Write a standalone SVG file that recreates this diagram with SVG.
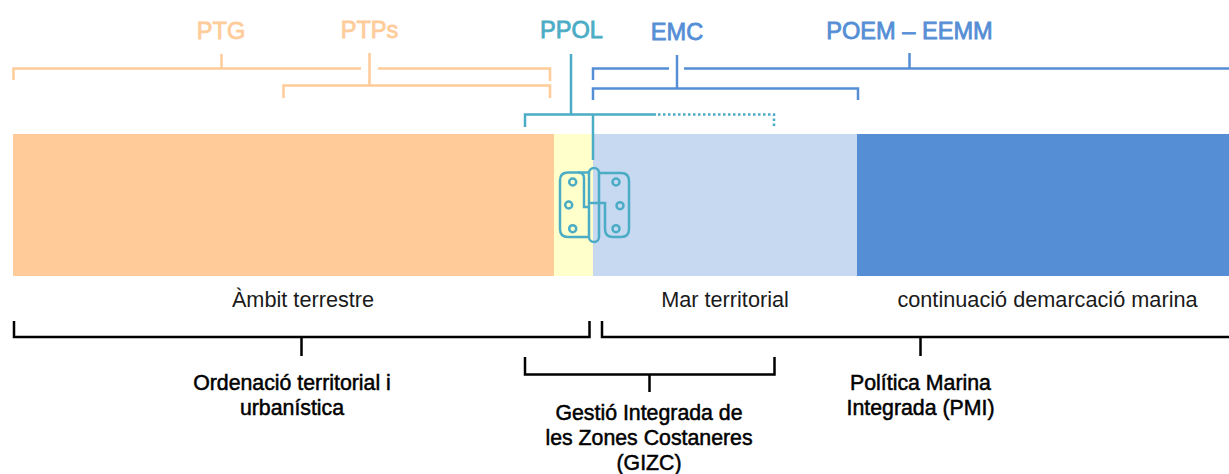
<svg xmlns="http://www.w3.org/2000/svg" width="1229" height="474" viewBox="0 0 1229 474">
<style>
text{font-family:"Liberation Sans",Arial,sans-serif;text-anchor:middle}
.t{font-size:23.6px;stroke-width:.8}
.o{fill:#FFCC99;stroke:#FFCC99}
.b{fill:#558ED5;stroke:#558ED5}
.c{fill:#4BACC6;stroke:#4BACC6}
.l{font-size:21.7px;fill:#1a1a1a}
.k{font-size:21.3px;fill:#000;stroke:#000;stroke-width:.5}
path,line,circle,rect.s{fill:none;stroke-width:2.5}
.so{stroke:#FFCC99}
.sb{stroke:#558ED5}
.sc{stroke:#4BACC6}
.sk{stroke:#000}
</style>
<g id="zones">
<rect x="13" y="134" width="541" height="142" fill="#FFCC99"/>
<rect x="554" y="134" width="39" height="142" fill="#FFFFCC"/>
<rect x="593" y="134" width="264" height="142" fill="#C6D9F1"/>
<rect x="857" y="134" width="372" height="142" fill="#558ED5"/>
</g>
<g id="connectors">
<path class="so" d="M13.500 80V68.500H361M378 68.500H550V81"/>
<path class="so" d="M221.500 54V68.500M369.500 53V85"/>
<path class="so" d="M283.500 98V85.500H550V98"/>
<path class="sb" d="M593 80V68.500H669M684 68.500H1229"/>
<path class="sb" d="M677 55V88.500M909.500 53V68.500"/>
<path class="sb" d="M593 100V88.500H858V100"/>
<path class="sc" d="M571 54V114.500M525 127V114.500H656M593 114.500V160"/>
<path class="sc" d="M658 114.500H774V127" stroke-dasharray="2.500 2.500"/>
<path class="sk" d="M14 321V337H589.500V321M301.500 337V356"/>
<path class="sk" d="M602 321V337H1229M920.500 337V356"/>
<path class="sk" d="M525 357V374.500H774.500V357M649.500 374.500V392"/>
</g>
<g id="hinge">
<path class="sc" d="M589 172.500H568Q560 172.500 560 180.500V229Q560 237 568 237H589"/>
<path class="sc" d="M578 172.500Q584 172.500 584 178V207H589M599 207H600"/>
<path class="sc" d="M589 203H605V229Q605 237 613 237H621Q629 237 629 229V181Q629 173 621 173H599"/>
<rect class="s sc" x="589" y="168" width="10" height="74" rx="5"/>
<circle class="sc" cx="572.700" cy="182" r="3.500"/>
<circle class="sc" cx="568.700" cy="205" r="3.500"/>
<circle class="sc" cx="572.700" cy="228.700" r="3.500"/>
<circle class="sc" cx="616" cy="182" r="3.500"/>
<circle class="sc" cx="620" cy="205.700" r="3.500"/>
<circle class="sc" cx="616" cy="228.700" r="3.500"/>
</g>
<g id="ptg"><text class="t o" x="221" y="39">PTG</text></g>
<g id="ptps"><text class="t o" x="369.500" y="38">PTPs</text></g>
<g id="ppol"><text class="t c" x="571.500" y="38">PPOL</text></g>
<g id="emc"><text class="t b" x="677" y="40">EMC</text></g>
<g id="poem"><text class="t b" x="909.500" y="38.500">POEM – EEMM</text></g>
<g id="ambit"><text class="l" x="303" y="307">Àmbit terrestre</text></g>
<g id="mar"><text class="l" x="725" y="307">Mar territorial</text></g>
<g id="continuacio"><text class="l" x="1047.500" y="307">continuació demarcació marina</text></g>
<g id="ordenacio"><text class="k" x="292" y="390">Ordenació territorial i</text><text class="k" x="292" y="415">urbanística</text></g>
<g id="gizc"><text class="k" x="649" y="420">Gestió Integrada de</text><text class="k" x="649" y="445">les Zones Costaneres</text><text class="k" x="649" y="470">(GIZC)</text></g>
<g id="pmi"><text class="k" x="920.500" y="390">Política Marina</text><text class="k" x="920.500" y="415">Integrada (PMI)</text></g>
</svg>
